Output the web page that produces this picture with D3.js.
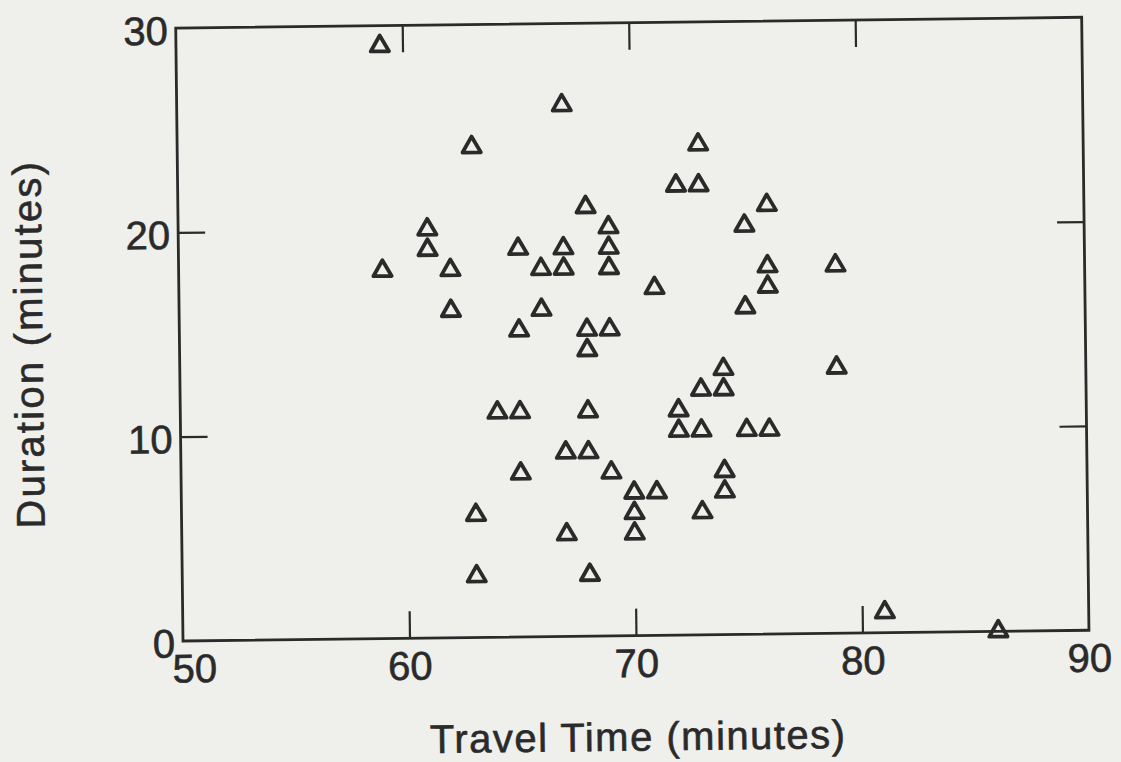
<!DOCTYPE html>
<html>
<head>
<meta charset="utf-8">
<script src="https://cdn.jsdelivr.net/npm/d3@7"></script>
<style>
	body{margin:0;background:#efefeb;}
	.canvas{width:1121px;height:762px;overflow:hidden;}
	text{font-family:"Liberation Sans",Arial,Helvetica,sans-serif;fill:#2a2a2a;stroke:#2a2a2a;stroke-width:0.6px;}
</style>
</head>
<body>
<div class="canvas" id="plot"></div>
<script>
//the data (whole minutes)
var travelTime = [59,67,63,68,61,69,61,65,67,69,59,62,66,67,69,62,66,65,68,69,
	68,64,65,68,67,68,65,69,70,71,70,70,63,67,63,68,74,73,74,72,
	72,73,75,76,79,74,74,73,73,72,73,76,75,76,79,76,71,75,81,86];
var duration = [29,26,24,21,20,20,19,19,19,19,18,18,18,18,18,16,16,15,15,15,
	14,11,11,11,9,9,8,8,7,7,6,5,6,5,3,3,13,12,12,11,
	10,10,10,10,13,8,7,6,24,22,22,21,20,18,18,17,17,16,1,0];

var xTicks = [50,60,70,80,90];
var yTicks = [0,10,20,30];
var xInner = [60,70,80];
var yInner = [10,20];

//frame of the plot (the scan is tilted a little, so the whole thing is rotated)
var margin = {t:28,l:183};
var width = 906,
	height = 613;
var ink = '#2a2a2a';

var svg = d3.select('.canvas')
	.append('svg')
	.attr('width',1121)
	.attr('height',762);

var plot = svg.append('g')
	.attr('class','plot')
	.attr('transform','rotate(-0.68,'+margin.l+','+(margin.t+height)+') translate('+margin.l+','+margin.t+')');

var x = d3.scaleLinear().domain([50,90]).range([0,width]);
var y = d3.scaleLinear().domain([0,30]).range([height,0]);

//inner ticks on all four sides
function tickStyle(g){
	g.select('.domain').remove();
	g.selectAll('line').attr('stroke',ink).attr('stroke-width',2.2);
	g.selectAll('text').remove();
}
plot.append('g').attr('transform','translate(0,'+height+')')
	.call(d3.axisBottom(x).tickValues(xInner).tickSizeInner(-27).tickSizeOuter(0)).call(tickStyle);
plot.append('g')
	.call(d3.axisTop(x).tickValues(xInner).tickSizeInner(-27).tickSizeOuter(0)).call(tickStyle);
plot.append('g')
	.call(d3.axisLeft(y).tickValues(yInner).tickSizeInner(-27).tickSizeOuter(0)).call(tickStyle);
plot.append('g').attr('transform','translate('+width+',0)')
	.call(d3.axisRight(y).tickValues(yInner).tickSizeInner(-27).tickSizeOuter(0)).call(tickStyle);

plot.append('rect')
	.attr('x',0).attr('y',0)
	.attr('width',width).attr('height',height)
	.attr('fill','none')
	.attr('stroke',ink)
	.attr('stroke-width',2.8);

//tick labels
var xLab = plot.append('g').attr('transform','translate(0,'+height+')')
	.call(d3.axisBottom(x).tickValues(xTicks).tickSize(0).tickPadding(13));
xLab.select('.domain').remove();
xLab.selectAll('text')
	.attr('font-size',40)
	.attr('fill',ink)
	.attr('dx',function(d){ return d==50 ? 11 : 0; });

var yLab = plot.append('g')
	.call(d3.axisLeft(y).tickValues(yTicks).tickSize(0).tickPadding(8));
yLab.select('.domain').remove();
yLab.selectAll('text')
	.attr('font-size',40)
	.attr('fill',ink)
	.attr('dy','0.4em');

//axis titles
plot.append('text')
	.attr('x',x(70)+1)
	.attr('y',height+115)
	.attr('text-anchor','middle')
	.attr('font-size',40)
	.attr('letter-spacing',1.5)
	.text('Travel Time (minutes)');

plot.append('text')
	.attr('transform','translate(-137,'+(y(15)+8)+') rotate(-90)')
	.attr('text-anchor','middle')
	.attr('font-size',40)
	.attr('letter-spacing',2.2)
	.text('Duration (minutes)');

//open triangles
var tri = d3.symbol().type(d3.symbolTriangle).size(145);
travelTime.forEach(function(t,i){
	plot.append('path')
		.attr('d',tri)
		.attr('transform','translate('+x(t)+','+y(duration[i])+')')
		.attr('fill','none')
		.attr('stroke',ink)
		.attr('stroke-width',3.8)
		.attr('stroke-linejoin','round');
});
</script>
</body>
</html>
